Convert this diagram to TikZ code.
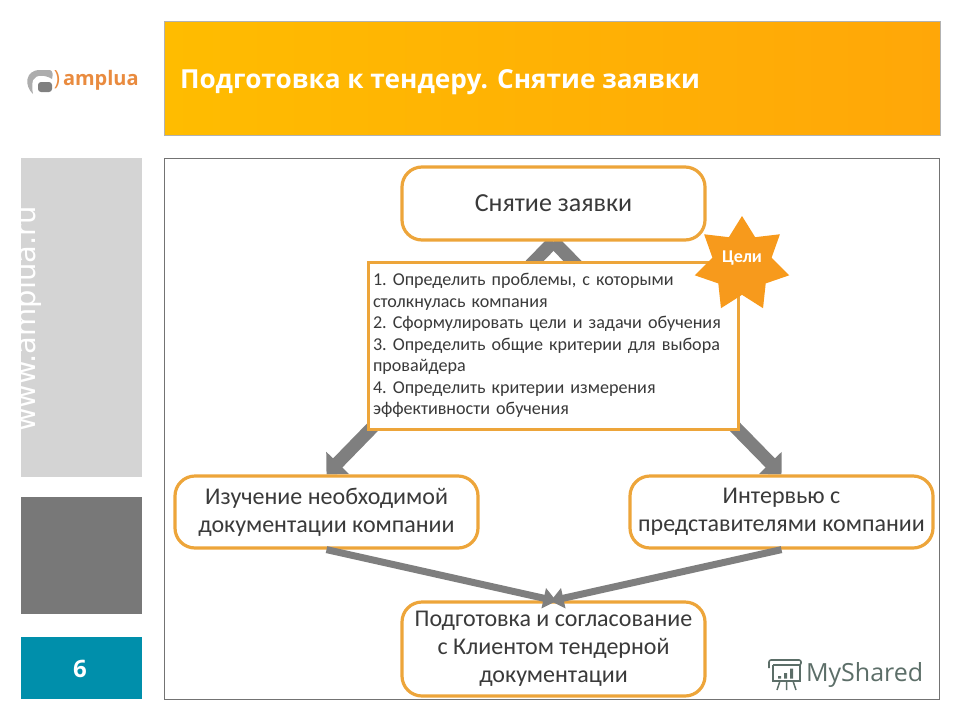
\documentclass[tikz,border=0pt]{standalone}
\usepackage{fontspec}
\setmainfont{Carlito}
\newfontfamily\titlefont{Open Sans}
\newfontfamily\sidefont{DejaVu Sans}
\usetikzlibrary{arrows.meta,shapes.geometric,backgrounds}
\definecolor{boxorange}{HTML}{EDA53A}
\definecolor{arrowgray}{HTML}{7F7F7F}
\definecolor{inktext}{HTML}{3A3A3A}
\definecolor{sideteal}{HTML}{008FAB}
\definecolor{staroange}{HTML}{F79A1C}
\definecolor{titleleft}{HTML}{FFBC00}
\definecolor{titleright}{HTML}{FFA708}
\definecolor{logoorange}{HTML}{E98B3F}
\definecolor{markgray}{HTML}{5C6E68}
\tikzset{
  stepbox/.style={draw=boxorange,line width=3.2pt,rounded corners=20pt,fill=white,
    minimum width=303pt,align=center,text=inktext,inner sep=0pt,
    font=\fontsize{24}{28}\selectfont},
  bigarrow/.style={draw=arrowgray,line width=13pt,-{Triangle[width=31pt,length=16pt]}},
  thinarrow/.style={draw=arrowgray,line width=7pt,shorten >=-3pt,-{Triangle[width=20pt,length=13pt]}},
  panel/.style={draw=none,inner sep=0pt,outer sep=0pt}
}
\begin{document}
\begin{tikzpicture}[x=1pt,y=-1pt]
  \useasboundingbox (0,0) rectangle (960,720);
  % side panels
  \node[panel,fill=black!17,minimum width=121pt,minimum height=319pt] (sidelight) at (81.5,317.5) {};
  \node[panel,fill=black!53,minimum width=121pt,minimum height=117pt] (sidedark) at (81.5,555.5) {};
  \node[panel,fill=sideteal,minimum width=121pt,minimum height=62pt] (sidepage) at (81.5,668) {};
  \node[panel,text=white,rotate=90,font=\sidefont\fontsize{29}{32}\selectfont] (site) at (27,319) {www.amplua.ru};
  \node[panel,text=white,font=\titlefont\bfseries\fontsize{24}{28}\selectfont] (pagenum) at (80,669) {6};
  % logo
  \fill[black!32] (33,94) .. controls (24,86) and (25,70) .. (40,70) -- (50,70) .. controls (53,71) and (53,75) .. (52,79)
    .. controls (46,75) and (36,74) .. (33,80) .. controls (32,84) and (32,89) .. (33,94);
  \fill[black!50,rounded corners=3pt] (38,82) rectangle (52,92);
  \node[panel,text=logoorange,font=\titlefont\fontsize{21}{24}\selectfont] (logopar) at (57,80) {)};
  \node[panel,text=logoorange,font=\titlefont\bfseries\fontsize{20}{24}\selectfont,anchor=west] (logotext) at (63,80) {amplua};
  % title
  \node[panel,draw=black!30,left color=titleleft,right color=titleright,minimum width=776pt,minimum height=114pt] (titlebox) at (552,78) {};
  \node[panel,text=white,anchor=west,font=\titlefont\bfseries\fontsize{26.2}{30}\selectfont] (titletext) at (180,82) {Подготовка к тендеру. Снятие заявки};
  % frame
  \node[panel,draw=black!55,line width=1pt,minimum width=775pt,minimum height=541pt] (frame) at (551.5,428.5) {};
  % boxes
  \node[stepbox,minimum height=73pt,font=\fontsize{26}{30}\selectfont] (snyatie) at (553.5,203.5) {Снятие заявки};
  \node[stepbox,minimum height=72pt] (izuchenie) at (326.5,512) {Изучение необходимой\\документации компании};
  \node[stepbox,minimum height=72pt] (intervyu) at (781.5,512) {Интервью с\\представителями компании};
  \node[stepbox,minimum height=94pt] (soglasie) at (553.5,649) {Подготовка и согласование\\с Клиентом тендерной\\документации};
  % arrows behind the boxes
  \begin{scope}[on background layer]
    \draw[bigarrow] (snyatie.south) -- (izuchenie.north);
    \draw[bigarrow] (snyatie.south) -- (intervyu.north);
  \end{scope}
  \draw[thinarrow] (izuchenie.south) -- (soglasie.north);
  \draw[thinarrow] (intervyu.south) -- (soglasie.north);
  % list of goals
  \node[draw=boxorange,line width=3pt,fill=white,text=inktext,minimum width=370pt,minimum height=167pt,
    text width=360pt,inner sep=0pt,align=left,font=\frenchspacing\fontsize{18.1}{21.5}\selectfont] (goals) at (553,345.5) {%
    1. Определить проблемы, с которыми\\столкнулась компания\\2. Сформулировать цели и задачи обучения\\3. Определить общие критерии для выбора\\провайдера\\4. Определить критерии измерения\\эффективности обучения};
  \node[star,star points=7,star point ratio=1.6,fill=staroange,minimum size=97pt,inner sep=0pt] (celi) at (742,264.5) {};
  \node[panel,text=white,font=\bfseries\fontsize{18}{20}\selectfont] (celitext) at (742,258) {Цели};
  % watermark
  \draw[markgray,line width=1.6pt] (773,665) -- (773,681) -- (800,681) -- (800,665);
  \draw[markgray,line width=1.6pt,rounded corners=2pt] (769,668) -- (769,660) -- (801,660) -- (801,665) -- (773,665);
  \draw[markgray,line width=1.5pt] (780,681) -- (777,690) (786.5,681) -- (786.5,690) (793,681) -- (796,690);
  \fill[markgray] (778,676) rectangle (781,678.5) (784,673) rectangle (787,678.5) (790,668.5) rectangle (793,678.5);
  \node[panel,text=markgray,anchor=west,font=\titlefont\fontsize{25}{28}\selectfont] (myshared) at (806,675) {MyShared};
\end{tikzpicture}
\end{document}
